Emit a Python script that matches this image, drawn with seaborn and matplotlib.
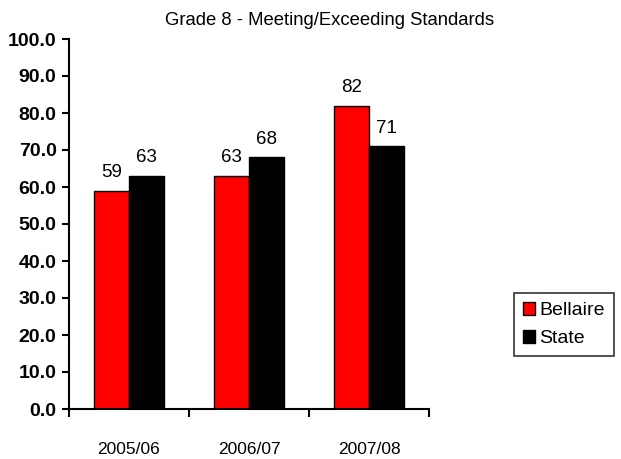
import matplotlib
matplotlib.use("Agg")
import matplotlib.pyplot as plt
import seaborn as sns
import pandas as pd

years = ["2005/06", "2006/07", "2007/08"]
bellaire = [59, 63, 82]
state = [63, 68, 71]
series_names = ["Bellaire", "State"]
colors = ["#FF0000", "#000000"]

df = pd.DataFrame({
    "Year": years * 2,
    "Value": bellaire + state,
    "School": [series_names[0]] * 3 + [series_names[1]] * 3,
})

sns.set_theme(style="white")
plt.rcParams["font.family"] = ["Liberation Sans", "DejaVu Sans"]
plt.rcParams["text.color"] = "black"
plt.rcParams["xtick.color"] = "black"
plt.rcParams["ytick.color"] = "black"

fig = plt.figure(figsize=(6.21, 4.59), dpi=100)
ax = fig.add_axes([69 / 621, 1 - 409 / 459, 360 / 621, 370 / 459])

sns.barplot(data=df, x="Year", y="Value", hue="School", palette=colors,
            saturation=1, width=0.58, edgecolor="black", linewidth=1.0,
            ax=ax, legend=True)

for cont in ax.containers:
    ax.bar_label(cont, labels=[f"{v:.0f}" for v in cont.datavalues],
                 padding=7, fontsize=13.5, color="black")

ax.set_ylim(0, 100)
ax.set_xlim(-0.5, 2.5)
ax.set_yticks(range(0, 101, 10))
ax.set_yticklabels([f"{v:.1f}" for v in range(0, 101, 10)],
                   fontsize=14, fontweight="bold", color="black")
ax.set_xticks([0, 1, 2])
ax.set_xticklabels(years, fontsize=12.5, color="black")
ax.set_xticks([-0.5, 0.5, 1.5, 2.5], minor=True)
ax.tick_params(axis="x", which="major", length=0, pad=24)
ax.tick_params(axis="x", which="minor", length=6, width=1.5, color="black", bottom=True)
ax.tick_params(axis="y", length=5, width=1.5, color="black", left=True, pad=4)
ax.set_xlabel("")
ax.set_ylabel("")
for s in ["top", "right"]:
    ax.spines[s].set_visible(False)
for s in ["left", "bottom"]:
    ax.spines[s].set_color("black")
    ax.spines[s].set_linewidth(1.5)

fig.text(0.53, 0.955, "Grade 8 - Meeting/Exceeding Standards",
         ha="center", va="center", fontsize=13.3, color="black")

leg = ax.legend(loc="upper left", bbox_to_anchor=(514 / 621, 1 - 293 / 459),
                bbox_transform=fig.transFigure, frameon=True, fancybox=False,
                edgecolor="black", fontsize=14, handlelength=0.65, handleheight=0.65,
                handletextpad=0.2, borderpad=0.45, labelspacing=0.55, borderaxespad=0)
leg.get_frame().set_linewidth(1.2)
leg.get_frame().set_facecolor("white")
for t in leg.get_texts():
    t.set_color("black")

fig.savefig("out.png", dpi=100, facecolor="white")
